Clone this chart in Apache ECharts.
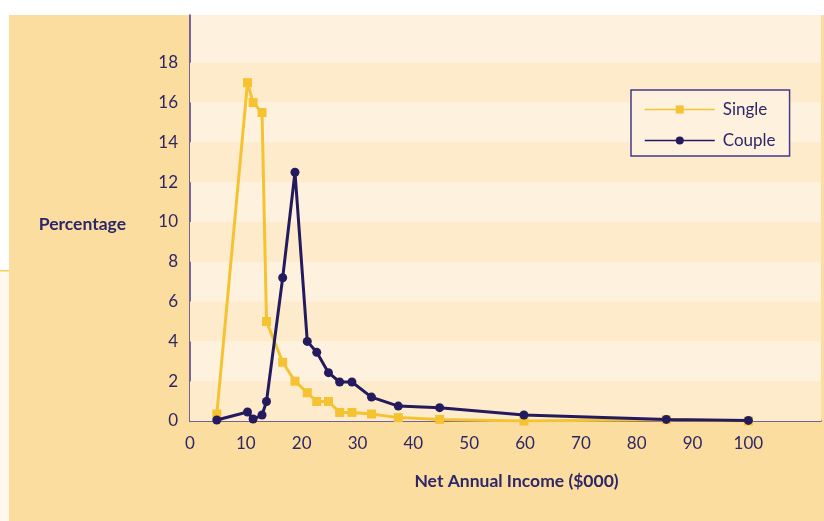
<!DOCTYPE html>
<html>
<head>
<meta charset="utf-8">
<script src="https://cdn.jsdelivr.net/npm/echarts@6/dist/echarts.min.js"></script>
<style>
  html, body { margin: 0; padding: 0; background: #ffffff; }
  #chart { width: 824px; height: 521px; }
</style>
</head>
<body>
<div id="chart"></div>
<script>
// Net annual income ($000) at which each share was measured
const incomeX = [4.8, 10.3, 11.3, 12.9, 13.7, 16.6, 18.8, 21.0, 22.7, 24.8, 26.8, 29.0, 32.5, 37.3, 44.7, 59.8, 85.3, 100];
// Percentage of households in each income point
const singlePct = [0.35, 17.0, 16.0, 15.5, 5.0, 2.95, 2.0, 1.42, 0.98, 0.98, 0.43, 0.43, 0.35, 0.17, 0.08, 0.0, 0.07, 0.0];
const couplePct = [0.05, 0.45, 0.1, 0.3, 0.98, 7.2, 12.5, 4.0, 3.45, 2.43, 1.96, 1.96, 1.2, 0.75, 0.67, 0.3, 0.08, 0.03];
// Axis ticks
const xTicks = [0, 10, 20, 30, 40, 50, 60, 70, 80, 90, 100];
const yTicks = [0, 2, 4, 6, 8, 10, 12, 14, 16, 18];

const ink = '#2d2668';
const axisInk = '#463a8c';
const bandLight = '#fef2df';
const bandDark = '#fdebcb';
const tan = '#fbde9f';

const pairs = ys => incomeX.map((x, i) => [x, ys[i]]);

// alternate 2-point bands, starting with the darker one at the baseline
const bands = [];
for (let i = 0; i + 1 < yTicks.length; i += 2) {
  bands.push([{ yAxis: yTicks[i] }, { yAxis: yTicks[i + 1] }]);
}

const chart = echarts.init(document.getElementById('chart'), null, { renderer: 'canvas' });
chart.setOption({
  backgroundColor: '#ffffff',
  animation: false,
  graphic: [
    { type: 'rect', z: -10, shape: { x: 9, y: 15, width: 815, height: 506 }, style: { fill: tan } },
    { type: 'rect', z: -10, shape: { x: 0, y: 271, width: 9, height: 250 }, style: { fill: '#fff8ec' } },
    { type: 'rect', z: -10, shape: { x: 0, y: 270, width: 9, height: 1.5 }, style: { fill: '#f6cf5c' } }
  ],
  grid: {
    left: 190, top: 15, right: 0, bottom: 100,
    show: true, backgroundColor: bandLight, borderWidth: 0
  },
  legend: {
    orient: 'vertical',
    left: 631, top: 90,
    padding: [11, 14, 7, 13],
    itemWidth: 70, itemHeight: 10, itemGap: 14,
    backgroundColor: bandLight,
    borderColor: axisInk, borderWidth: 1.5, borderRadius: 0,
    lineStyle: { width: 1.5 },
    textStyle: { color: ink, fontFamily: 'Lato', fontSize: 17, padding: [0, 0, 0, 3] },
    data: ['Single', 'Couple']
  },
  xAxis: {
    type: 'value',
    min: 0, max: 113, interval: 10,
    name: 'Net Annual Income ($000)',
    nameLocation: 'middle', nameGap: 51,
    nameTextStyle: { color: ink, fontFamily: 'Lato', fontWeight: 'bold', fontSize: 17.5, padding: [0, 0, 0, 22] },
    axisLine: { show: true, lineStyle: { color: axisInk, width: 1.5 } },
    axisTick: { show: false },
    splitLine: { show: false },
    axisLabel: {
      color: ink, fontFamily: 'Lato', fontSize: 17, margin: 14,
      formatter: v => (xTicks.indexOf(v) >= 0 ? String(v) : '')
    }
  },
  yAxis: {
    type: 'value',
    min: 0, max: 20.4, interval: 2,
    name: 'Percentage',
    nameLocation: 'middle', nameRotate: 0, nameGap: 64,
    nameTextStyle: {
      color: ink, fontFamily: 'Lato', fontWeight: 'bold', fontSize: 17.5,
      align: 'right', verticalAlign: 'top', lineHeight: 12
    },
    axisLine: { show: true, lineStyle: { color: axisInk, width: 1.5 } },
    axisTick: { show: false },
    splitLine: { show: false },
    axisLabel: {
      color: ink, fontFamily: 'Lato', fontSize: 17, margin: 12,
      formatter: v => (yTicks.indexOf(v) >= 0 ? String(v) : '')
    }
  },
  series: [
    {
      name: 'Single',
      type: 'line',
      data: pairs(singlePct),
      symbol: 'rect', symbolSize: 9,
      lineStyle: { color: '#f5c332', width: 3 },
      itemStyle: { color: '#f5c332' },
      markArea: {
        silent: true,
        itemStyle: { color: bandDark },
        data: bands
      },
      z: 2
    },
    {
      name: 'Couple',
      type: 'line',
      data: pairs(couplePct),
      symbol: 'circle', symbolSize: 9,
      lineStyle: { color: '#241a5e', width: 3 },
      itemStyle: { color: '#241a5e' },
      z: 3
    }
  ]
});
</script>
</body>
</html>
